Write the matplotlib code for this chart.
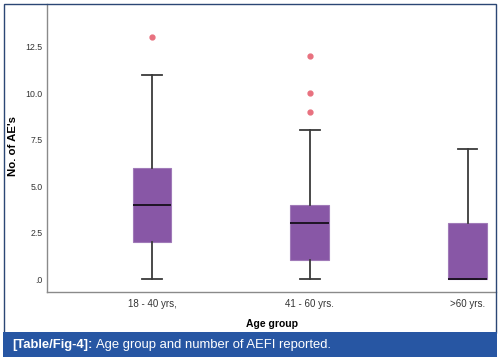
import matplotlib
matplotlib.use("Agg")
import matplotlib.pyplot as plt
from matplotlib.patches import Rectangle

plt.rcParams['font.family'] = ['Liberation Sans', 'DejaVu Sans']

# box statistics
groups = ["18 - 40 yrs,", "41 - 60 yrs.", ">60 yrs."]
q1 = [2, 1, 0]
medians = [4, 3, 0]
q3 = [6, 4, 3]
whisker_low = [0, 0, 0]
whisker_high = [11, 8, 7]
outliers = [[13], [9, 10, 12], []]

y_ticks = [0, 2.5, 5.0, 7.5, 10.0, 12.5]
y_labels = [".0", "2.5", "5.0", "7.5", "10.0", "12.5"]

stats = []
for i, name in enumerate(groups):
    stats.append({
        "label": name,
        "q1": q1[i],
        "med": medians[i],
        "q3": q3[i],
        "whislo": whisker_low[i],
        "whishi": whisker_high[i],
        "fliers": outliers[i],
    })

fig = plt.figure(figsize=(5, 3.61), dpi=100)
ax = fig.add_axes([0.094, 0.191, 0.898, 0.798])

ax.bxp(stats, positions=[1, 2, 3], widths=0.245, patch_artist=True,
       boxprops=dict(facecolor="#8857a6", edgecolor="#a07ab8", linewidth=0.8),
       medianprops=dict(color="#1e1424", linewidth=1.4),
       whiskerprops=dict(color="#3a3a3a", linewidth=1.3),
       capprops=dict(color="#3a3a3a", linewidth=1.3),
       capwidths=0.125,
       flierprops=dict(marker="o", markersize=3.5, markerfacecolor="#e8717f",
                       markeredgecolor="#e8717f"))

ax.set_xlim(0.335, 3.18)
ax.set_ylim(-0.7, 14.8)
ax.set_yticks(y_ticks)
ax.set_yticklabels(y_labels)
ax.tick_params(axis="y", length=0, labelsize=6.3, pad=3, labelcolor="#333333")
ax.tick_params(axis="x", length=0, labelsize=7, pad=5, labelcolor="#333333")
for side in ["top", "right"]:
    ax.spines[side].set_visible(False)
for side in ["left", "bottom"]:
    ax.spines[side].set_color("#8a8a8a")
    ax.spines[side].set_linewidth(1.0)

ax.set_xlabel("Age group", fontsize=7.5, fontweight="bold", labelpad=7)
ax.set_ylabel("No. of AE's", fontsize=8.2, fontweight="bold")
ax.yaxis.set_label_coords(-0.064, 0.507)

# outer frame and caption bar
fig.patches.append(Rectangle((4 / 500, 1 - 333 / 361), 492 / 500, 329 / 361,
                             transform=fig.transFigure, fill=False,
                             edgecolor="#2b4775", linewidth=1.0, zorder=5))
fig.patches.append(Rectangle((3 / 500, 1 - 357 / 361), 494 / 500, 25 / 361,
                             transform=fig.transFigure, facecolor="#2756a3",
                             edgecolor="none", zorder=6))
cap = fig.text(12 / 500, 1 - 345 / 361, "[Table/Fig-4]:", color="white",
               fontsize=9.4, fontweight="bold", va="center", zorder=7)
fig.canvas.draw()
bb = cap.get_window_extent()
fig.text((bb.x1 + 4) / 500, 1 - 345 / 361, "Age group and number of AEFI reported.",
         color="white", fontsize=9.4, va="center", zorder=7)

fig.savefig("out.png", dpi=100)
